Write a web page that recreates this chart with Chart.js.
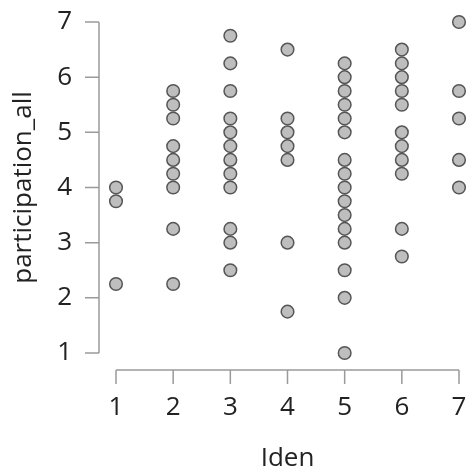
<!DOCTYPE html>
<html>
<head>
<meta charset="utf-8">
<script src="https://cdn.jsdelivr.net/npm/chart.js@4/dist/chart.umd.min.js"></script>
<style>
  html, body { margin: 0; padding: 0; background: #fff; }
  #wrap { width: 469px; height: 475px; }
</style>
</head>
<body>
<div id="wrap"><canvas id="myChart" width="469" height="475"></canvas></div>
<script>
// Iden categories on the x axis
const idenValues = [1, 2, 3, 4, 5, 6, 7];

// participation_all values
const iden1 = [4, 3.75, 2.25];
const iden2 = [5.75, 5.5, 5.25, 4.75, 4.5, 4.25, 4, 3.25, 2.25];
const iden3 = [6.75, 6.25, 5.75, 5.25, 5, 4.75, 4.5, 4.25, 4, 3.25, 3, 2.5];
const iden4 = [6.5, 5.25, 5, 4.75, 4.5, 3, 1.75];
const iden5 = [6.25, 6, 5.75, 5.5, 5.25, 5, 4.5, 4.25, 4, 3.75, 3.5, 3.25, 3, 2.5, 2, 1];
const iden6 = [6.5, 6.25, 6, 5.75, 5.5, 5, 4.75, 4.5, 4.25, 3.25, 2.75];
const iden7 = [7, 5.75, 5.25, 4.5, 4];

const yTicks = [1, 2, 3, 4, 5, 6, 7];

let columns = [iden1, iden2, iden3, iden4, iden5, iden6, iden7];
let points = [];
for (let i = 0; i < columns.length; i++) {
  for (let j = 0; j < columns[i].length; j++) {
    points.push({x: idenValues[i], y: columns[i][j]});
  }
}

const FONT = "'Open Sans', 'Liberation Sans', sans-serif";
const AXIS_COLOR = '#9a9a9a';

// R style axes: detached from the plot area, only spanning the tick range
const detachedAxes = {
  id: 'detachedAxes',
  afterDraw(chart) {
    const ctx = chart.ctx;
    const xs = chart.scales.x, ys = chart.scales.y;
    const area = chart.chartArea;
    const gap = 17, tl = 14;
    ctx.save();
    ctx.strokeStyle = AXIS_COLOR;
    ctx.lineWidth = 1.5;
    ctx.beginPath();
    // x axis
    let yLine = area.bottom + gap;
    ctx.moveTo(xs.getPixelForValue(idenValues[0]), yLine);
    ctx.lineTo(xs.getPixelForValue(idenValues[idenValues.length - 1]), yLine);
    idenValues.forEach(v => {
      let px = xs.getPixelForValue(v);
      ctx.moveTo(px, yLine);
      ctx.lineTo(px, yLine + tl);
    });
    // y axis
    let xLine = area.left - gap;
    ctx.moveTo(xLine, ys.getPixelForValue(yTicks[0]));
    ctx.lineTo(xLine, ys.getPixelForValue(yTicks[yTicks.length - 1]));
    yTicks.forEach(v => {
      let py = ys.getPixelForValue(v);
      ctx.moveTo(xLine, py);
      ctx.lineTo(xLine - tl, py);
    });
    ctx.stroke();
    ctx.restore();
  }
};

const config = {
  type: 'scatter',
  data: {
    datasets: [{
      label: 'participation_all',
      data: points,
      backgroundColor: 'rgb(190, 190, 190)',
      borderColor: 'rgb(85, 85, 85)',
      borderWidth: 1.5,
      pointRadius: 6.3,
      pointHoverRadius: 6.3,
      clip: false
    }]
  },
  options: {
    responsive: false,
    animation: false,
    events: [],
    layout: { padding: { top: 22, right: 10, left: 0, bottom: 0 } },
    plugins: {
      legend: { display: false },
      tooltip: { enabled: false }
    },
    scales: {
      x: {
        type: 'linear',
        min: 1, max: 7,
        afterFit: s => { s.height = 122; s.paddingLeft = 0; s.paddingRight = 0; },
        afterBuildTicks: s => { s.ticks = idenValues.map(v => ({value: v})); },
        grid: { display: false, drawTicks: false },
        border: { display: false },
        ticks: { padding: 39, color: '#222', font: { family: FONT, size: 26 } },
        title: {
          display: true, text: 'Iden', color: '#222',
          font: { family: FONT, size: 26 },
          padding: { top: 0, bottom: 1 }
        }
      },
      y: {
        type: 'linear',
        min: 1, max: 7,
        afterFit: s => { s.width = 116; s.paddingTop = 0; s.paddingBottom = 0; },
        afterBuildTicks: s => { s.ticks = yTicks.map(v => ({value: v})); },
        grid: { display: false, drawTicks: false },
        border: { display: false },
        ticks: { padding: 44, color: '#222', font: { family: FONT, size: 26 } },
        title: {
          display: true, text: 'participation_all', color: '#222',
          font: { family: FONT, size: 26 },
          padding: { top: 8, bottom: 0 }
        }
      }
    }
  },
  plugins: [detachedAxes]
};

const myChart = new Chart(document.getElementById('myChart'), config);
</script>
</body>
</html>
